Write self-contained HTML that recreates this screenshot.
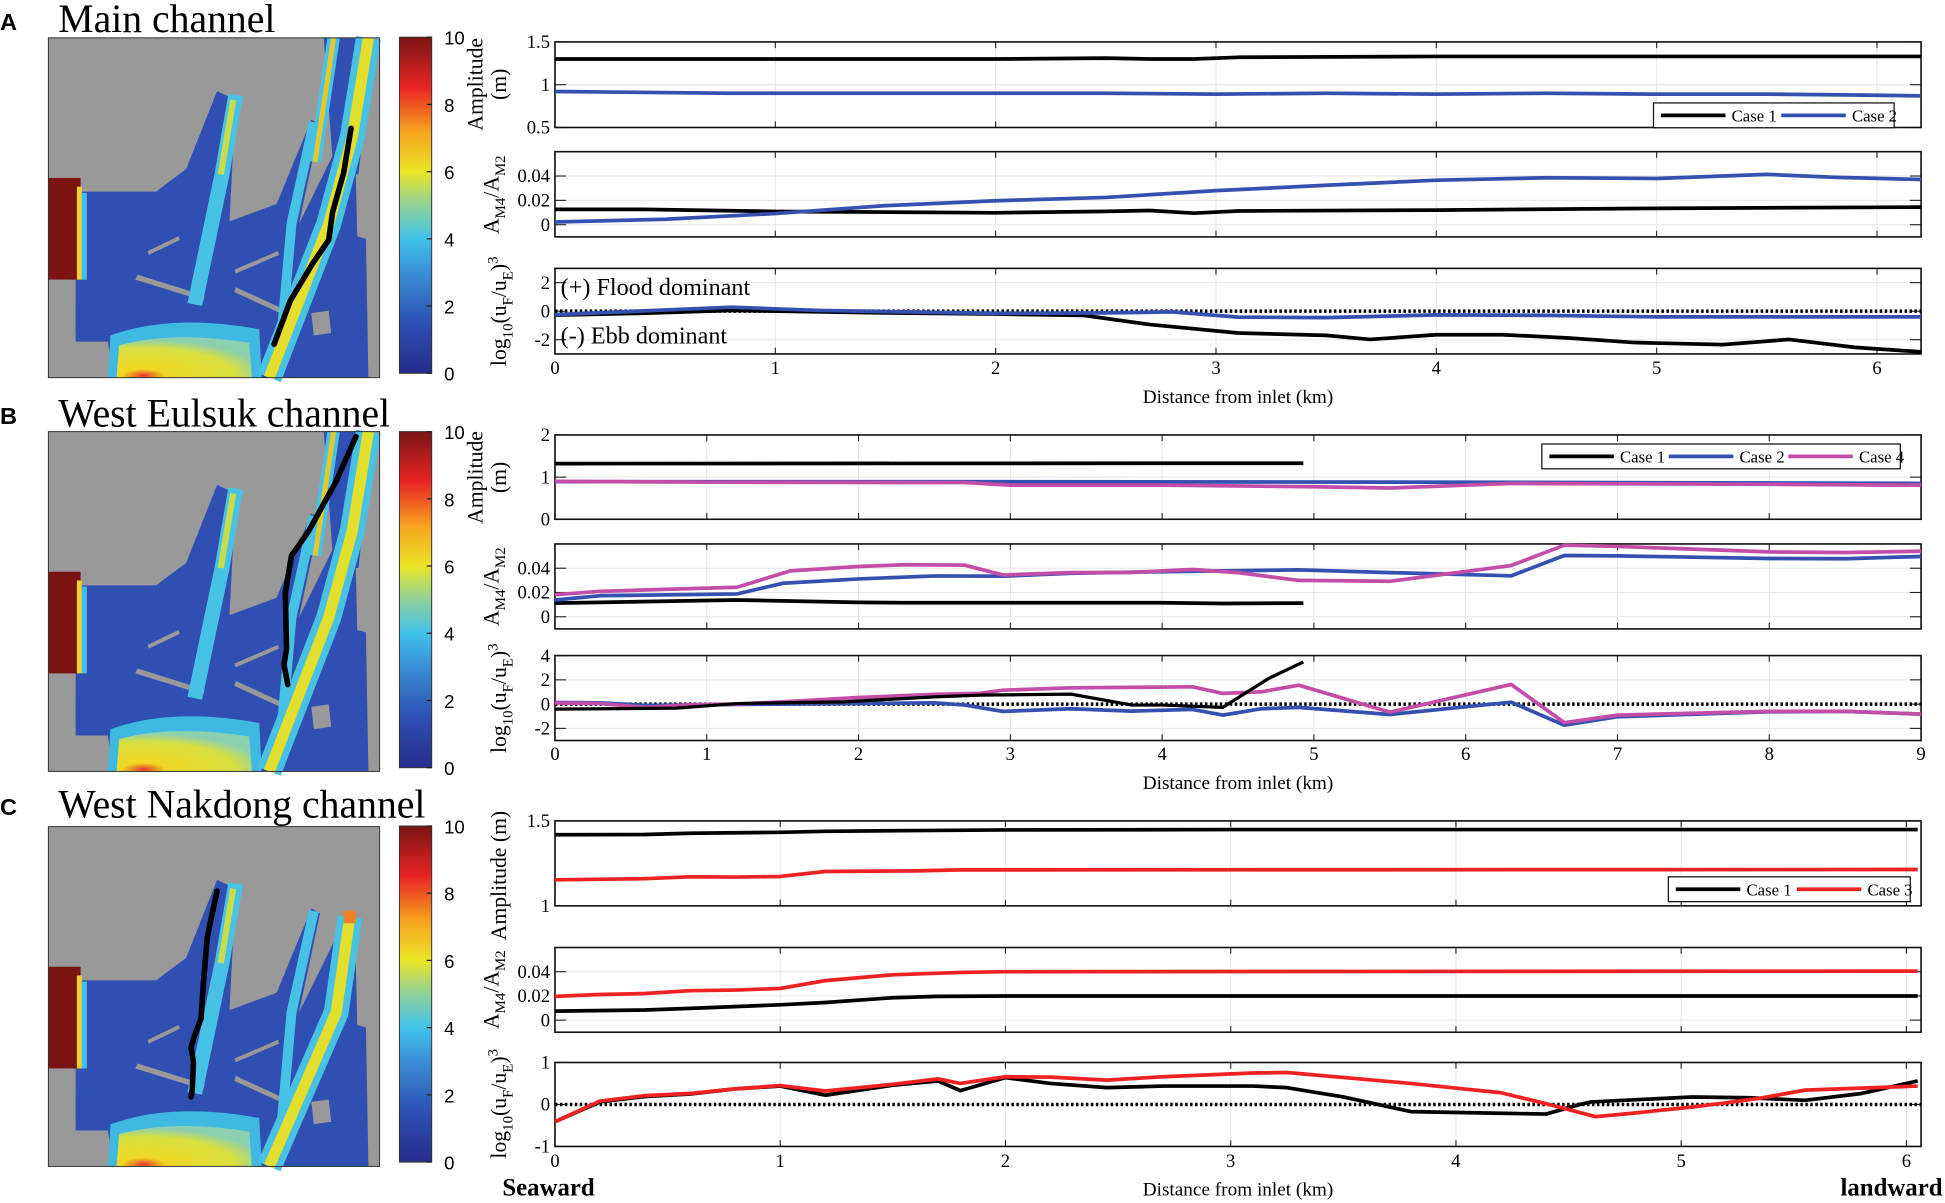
<!DOCTYPE html>
<html><head><meta charset="utf-8"><style>
html,body{margin:0;padding:0;background:#fff;}
svg{display:block;font-family:"Liberation Serif",serif;}
</style></head><body>
<svg id="fig" xmlns="http://www.w3.org/2000/svg" width="1945" height="1203" viewBox="0 0 1568 970" preserveAspectRatio="none">
<defs>
<linearGradient id="jet" x1="0" y1="1" x2="0" y2="0">
<stop offset="0" stop-color="#262c8c"/><stop offset="0.15" stop-color="#2d50b4"/><stop offset="0.3" stop-color="#3a8fd6"/><stop offset="0.4" stop-color="#40c3ea"/><stop offset="0.5" stop-color="#8fd19a"/><stop offset="0.6" stop-color="#ebe526"/><stop offset="0.72" stop-color="#f6a21f"/><stop offset="0.85" stop-color="#ea2424"/><stop offset="1" stop-color="#7a1414"/>
</linearGradient>
<radialGradient id="ybot" cx="0.2" cy="0.95" r="0.9"><stop offset="0" stop-color="#e8382a"/><stop offset="0.18" stop-color="#f0d823"/><stop offset="0.75" stop-color="#d8e040"/><stop offset="1" stop-color="#8cd0b0"/></radialGradient>
</defs>
<g id="root"></g>
</svg>
<script>
// ---------- data (km, values) ----------
const aAmpX1=[0,1,2,2.5,2.7,2.9,3.1,4,5,6.2];
const aAmpCase1=[1.30,1.30,1.30,1.31,1.30,1.30,1.32,1.33,1.33,1.33];
const aAmpX2=[0,0.8,2,2.5,3,3.5,4,4.5,5,5.5,5.9,6.2];
const aAmpCase2=[0.92,0.90,0.90,0.90,0.89,0.90,0.89,0.90,0.89,0.89,0.88,0.87];
const aRatX2=[0,0.5,1,1.5,2,2.5,3,3.5,4,4.5,5,5.5,5.8,6.2];
const aRatCase2=[0.0022,0.0045,0.0092,0.0157,0.0196,0.0224,0.028,0.0324,0.0366,0.0386,0.038,0.0414,0.039,0.0372];
const aRatX1=[0,0.4,1,2,2.5,2.7,2.9,3.1,4,5,6.2];
const aRatCase1=[0.0126,0.0126,0.0109,0.0098,0.011,0.0117,0.0095,0.0113,0.012,0.0134,0.0145];
const aDomX2=[0,0.8,1.2,2,2.5,2.8,3.1,3.5,4,4.5,5,6.2];
const aDomCase2=[-0.24,0.28,0.05,-0.16,-0.12,-0.05,-0.42,-0.45,-0.26,-0.3,-0.4,-0.4];
const aDomX1=[0,0.4,0.8,1.5,2,2.4,2.7,3.1,3.5,3.7,4.0,4.3,4.6,4.9,5.3,5.6,5.9,6.2];
const aDomCase1=[-0.28,-0.15,0.05,-0.12,-0.2,-0.3,-0.94,-1.53,-1.7,-1.98,-1.65,-1.65,-1.88,-2.2,-2.35,-1.98,-2.54,-2.85];

const bAmpX1=[0,4.93];
const bAmpCase1=[1.32,1.33];
const bAmpX2=[0,3,6,9];
const bAmpCase2=[0.89,0.89,0.88,0.85];
const bAmpX4=[0,1,2.7,3,4,5,5.5,6.3,7,8,9];
const bAmpCase4=[0.90,0.88,0.87,0.81,0.81,0.77,0.74,0.85,0.84,0.83,0.81];
const bRatX4=[0,0.3,1.2,1.55,2,2.3,2.7,2.95,3.4,3.8,4.2,4.5,4.9,5.5,6.3,6.65,7,8,8.5,9];
const bRatCase4=[0.0182,0.021,0.0243,0.0378,0.0414,0.0428,0.0425,0.0345,0.0364,0.0366,0.0389,0.0364,0.03,0.0292,0.0422,0.059,0.058,0.0535,0.053,0.054];
const bRatX2=[0,0.3,1.2,1.5,2,2.5,2.95,3.4,4.2,4.9,5.5,6.3,6.65,7,8,8.5,9];
const bRatCase2=[0.0138,0.0174,0.0188,0.0276,0.0312,0.0336,0.0334,0.0359,0.0375,0.0386,0.0364,0.0337,0.0505,0.0502,0.048,0.0478,0.0497];
const bRatX1=[0,1.2,2,2.3,4,4.4,4.93];
const bRatCase1=[0.0113,0.0138,0.0119,0.0116,0.0116,0.0110,0.0113];
const bDomX1=[0,0.8,1.2,1.9,2.5,2.8,3.4,3.8,4.0,4.4,4.7,4.93];
const bDomCase1=[-0.41,-0.33,0.05,0.19,0.6,0.74,0.82,-0.08,-0.08,-0.27,2.1,3.48];
const bDomX4=[0,0.3,0.6,0.9,1.2,1.5,2,2.5,2.8,2.95,3.4,4.2,4.4,4.65,4.9,5.5,6.3,6.65,7,8,8.5,9];
const bDomCase4=[0.1,0.05,-0.27,-0.05,0,0.19,0.55,0.8,0.88,1.15,1.34,1.42,0.88,1.01,1.56,-0.66,1.62,-1.53,-0.9,-0.6,-0.6,-0.82];
const bDomX2=[0,0.3,0.6,1.2,2,2.5,2.7,2.95,3.4,3.8,4.2,4.4,4.65,4.9,5.5,6.3,6.65,7,8,8.5,9];
const bDomCase2=[0.14,0.11,-0.11,-0.03,0.05,0.11,-0.08,-0.6,-0.38,-0.58,-0.44,-0.9,-0.38,-0.27,-0.85,0.16,-1.73,-1.04,-0.63,-0.6,-0.82];

const cAmpX1=[0,0.4,0.6,1,1.2,1.6,2,3,6.05];
const cAmpCase1=[1.418,1.420,1.427,1.433,1.439,1.443,1.447,1.449,1.449];
const cAmpX3=[0,0.4,0.6,0.8,1,1.2,1.6,1.8,6.05];
const cAmpCase3=[1.153,1.16,1.171,1.169,1.173,1.202,1.206,1.212,1.214];
const cRatX3=[0,0.2,0.4,0.6,0.8,1,1.2,1.5,1.8,2,6.05];
const cRatCase3=[0.0196,0.0212,0.022,0.0243,0.0248,0.0262,0.0326,0.0375,0.0394,0.04,0.0405];
const cRatX1=[0,0.4,0.6,1,1.2,1.5,1.7,2,6.05];
const cRatCase1=[0.0074,0.0083,0.0097,0.0127,0.0146,0.0185,0.0196,0.0199,0.0199];
const cDomX3=[0,0.2,0.4,0.6,0.8,1,1.2,1.5,1.7,1.8,2,2.2,2.45,2.7,3.1,3.25,3.8,4.2,4.4,4.62,4.8,5.05,5.2,5.35,5.55,5.75,6.05];
const cDomCase3=[-0.41,0.08,0.21,0.26,0.37,0.45,0.32,0.48,0.61,0.5,0.66,0.65,0.58,0.66,0.75,0.76,0.5,0.28,0.02,-0.29,-0.2,-0.06,0.04,0.15,0.34,0.38,0.44];
const cDomX1=[0,0.2,0.4,0.6,0.8,1,1.2,1.5,1.7,1.8,2,2.2,2.45,2.7,3.1,3.25,3.5,3.8,4.1,4.4,4.55,4.6,5.05,5.3,5.55,5.8,6.05];
const cDomCase1=[-0.41,0.06,0.19,0.25,0.37,0.44,0.22,0.46,0.56,0.33,0.64,0.5,0.4,0.44,0.44,0.4,0.18,-0.17,-0.2,-0.23,0,0.06,0.18,0.16,0.1,0.26,0.56];

const xTicksA=[0,1,2,3,4,5,6];
const xTicksB=[0,1,2,3,4,5,6,7,8,9];
const xTicksC=[0,1,2,3,4,5,6];
const cbTicks=[0,2,4,6,8,10];

// ---------- helpers ----------
const NS="http://www.w3.org/2000/svg";
const root=document.getElementById('root');
function mk(tag,attrs,parent,txt){const e=document.createElementNS(NS,tag);for(const k in attrs)e.setAttribute(k,attrs[k]);if(txt!==undefined)e.textContent=txt;(parent||root).appendChild(e);return e;}
function fmt(v){return String(v);}
const X0=447.4,X1=1548.7;
function makeAx(y0,y1,xmax,ymin,ymax){return {y0,y1,xmax,ymin,ymax,sx:v=>X0+v/xmax*(X1-X0),sy:v=>y1-(v-ymin)/(ymax-ymin)*(y1-y0)};}

function frame(ax,xt,yt,name,showX){
  const g=mk('g',{});
  
  
  xt.forEach(t=>{const x=ax.sx(t);mk('line',{x1:x,x2:x,y1:ax.y0,y2:ax.y1,stroke:'#e6e6e6','stroke-width':0.8},g);
    mk('line',{x1:x,x2:x,y1:ax.y1,y2:ax.y1-5,stroke:'#222','stroke-width':0.9},g);
    mk('line',{x1:x,x2:x,y1:ax.y0,y2:ax.y0+5,stroke:'#222','stroke-width':0.9},g);
    if(showX){const t1=mk('text',{x:x,y:showX,'font-size':15,'text-anchor':'middle'},g,fmt(t));}
  });
  yt.forEach(t=>{const y=ax.sy(t);mk('line',{x1:X0,x2:X1,y1:y,y2:y,stroke:'#e6e6e6','stroke-width':0.8},g);
    mk('line',{x1:X0,x2:X0+9,y1:y,y2:y,stroke:'#222','stroke-width':0.9},g);
    mk('line',{x1:X1,x2:X1-9,y1:y,y2:y,stroke:'#222','stroke-width':0.9},g);
    const t1=mk('text',{x:X0-4,y:y+5,'font-size':15,'text-anchor':'end'},g,fmt(t));
    
    
  });
  mk('rect',{x:X0,y:ax.y0,width:X1-X0,height:ax.y1-ax.y0,fill:'none',stroke:'#111','stroke-width':1.3},g);
  return g;
}
function series(ax,xs,ys,color,name,w){
  const d=xs.map((x,i)=>(i?'L':'M')+ax.sx(x).toFixed(1)+','+ax.sy(ys[i]).toFixed(1)).join(' ');
  const p=mk('path',{d:d,fill:'none',stroke:color,'stroke-width':w||3,'stroke-linejoin':'round'});
  
  
}
function zeroLine(ax){const y=ax.sy(0);const l=mk('line',{x1:X0,x2:X1,y1:y,y2:y,stroke:'#000','stroke-width':2.8,'stroke-dasharray':'2 2'});
  
  }
function legend(x,y,w,items){
  const g=mk('g',{});
  
  
  mk('rect',{x:x,y:y,width:w,height:20,fill:'#fff',stroke:'#111','stroke-width':1},g);
  const step=w/items.length;
  items.forEach((it,i)=>{const lx=x+6+i*step;
    const e=mk('g',{},g);
    
    
    mk('line',{x1:lx,x2:lx+52,y1:y+10,y2:y+10,stroke:it[1],'stroke-width':3},e);
    mk('text',{x:lx+57,y:y+15,'font-size':13.5},e,it[0]);});
}
function ylabel(cx,cy,html,name){
  const t=mk('text',{transform:`translate(${cx},${cy}) rotate(-90)`,'text-anchor':'middle','font-size':17.5});
  t.innerHTML=html;
  
  
}
const ampL2='<tspan x="0" dy="-9">Amplitude</tspan><tspan x="0" dy="19">(m)</tspan>';
const ratL='A<tspan font-size="12" dy="5">M4</tspan><tspan dy="-5">/A</tspan><tspan font-size="12" dy="5">M2</tspan>';
const logL='log<tspan font-size="12" dy="5">10</tspan><tspan dy="-5">(u</tspan><tspan font-size="12" dy="5">F</tspan><tspan dy="-5">/u</tspan><tspan font-size="12" dy="5">E</tspan><tspan dy="-5">)</tspan><tspan font-size="12" dy="-7">3</tspan>';
function xlabel(y){const t=mk('text',{x:(X0+X1)/2,y:y,'text-anchor':'middle','font-size':15.5},root,'Distance from inlet (km)');
  
  }

// ---------- maps ----------
function map(ox,oy,full,pathPts,name){
  const g=mk('g',{transform:`translate(${ox},${oy})`});
  
  
  mk('rect',{x:0,y:0,width:267,height:274,fill:'#999'},g);
  mk('path',{d:'M17,124 L87,124 Q100,114 111,106 L136,43 L151,50 L146,148 L184,134 L212,66 L219,70 L202,150 L240,73 L247,73 L249,160 L256,162 L258,274 L52,274 L48,245 L20,245 L20,200 L17,196 Z',fill:'#2f4fb2'},g);
  if(full){mk('path',{d:'M222,0 L262,0 L250,110 L230,110 Z',fill:'#2f4fb2'},g);}
  mk('rect',{x:0,y:113,width:26,height:82,fill:'#7c1313'},g);
  mk('rect',{x:23,y:120,width:4,height:75,fill:'#f0d030'},g);
  mk('rect',{x:27,y:125,width:4,height:70,fill:'#40c0e6'},g);
  mk('rect',{x:0,y:195,width:22,height:79,fill:'#999'},g);
  mk('rect',{x:22,y:215,width:26,height:22,fill:'#2f4fb2'},g);
  ['M70,195 L125,212 L126,208 L72,191Z','M150,205 L200,228 L201,224 L151,201Z','M150,187 L185,172 L186,175 L151,190Z','M212,222 L226,220 L228,238 L214,240Z','M80,172 L105,160 L106,163 L81,175Z'].forEach(d=>mk('path',{d:d,fill:'#999'},g));
  mk('path',{d:'M48,274 L50,240 Q100,222 170,235 L172,274 Z',fill:'#3fb8e2'},g);
  mk('path',{d:'M55,274 L57,248 Q100,236 162,246 L164,274 Z',fill:'url(#ybot)'},g);
  mk('path',{d:'M151,46 L140,110 L118,215',fill:'none',stroke:'#48c2e4','stroke-width':12},g);
  mk('path',{d:'M149,50 L139,110',fill:'none',stroke:'#c8dc50','stroke-width':5},g);
  mk('path',{d:'M214,68 L196,150 L185,274',fill:'none',stroke:'#48c2e4','stroke-width':8},g);
  if(full){
    mk('path',{d:'M258,0 L245,80 L226,150 L178,274',fill:'none',stroke:'#48c2e4','stroke-width':20},g);
    mk('path',{d:'M258,0 L245,80 L226,150 L178,274',fill:'none',stroke:'#e3df2c','stroke-width':9},g);
    mk('path',{d:'M230,0 L215,100',fill:'none',stroke:'#48c2e4','stroke-width':10},g);
    mk('path',{d:'M230,0 L215,100',fill:'none',stroke:'#e4c830','stroke-width':4},g);
  } else {
    mk('path',{d:'M243,73 L232,150 L178,274',fill:'none',stroke:'#48c2e4','stroke-width':20},g);
    mk('path',{d:'M243,73 L232,150 L178,274',fill:'none',stroke:'#e3df2c','stroke-width':9},g);
    mk('rect',{x:238,y:68,width:10,height:10,fill:'#f08020'},g);
  }
  const p=mk('path',{d:pathPts,fill:'none',stroke:'#000','stroke-width':4.5,'stroke-linecap':'round','stroke-linejoin':'round'},g);
  
  
  mk('rect',{x:0,y:0,width:267,height:274,fill:'none',stroke:'#333','stroke-width':0.8},g);
}
function colorbar(ox,oy,name){
  const g=mk('g',{});
  
  
  const h=271;
  mk('rect',{x:ox,y:oy,width:26,height:h,fill:'url(#jet)',stroke:'#333','stroke-width':0.8},g);
  cbTicks.forEach(t=>{const y=oy+h-t/10*h;
    mk('line',{x1:ox+26,x2:ox+22,y1:y,y2:y,stroke:'#222'},g);
    mk('text',{x:ox+36,y:y+6,'font-size':15,'font-family':'Liberation Sans, sans-serif'},g,String(t));});
}
function title(letter,txt,y){
  const a=mk('text',{x:0,y:y,'font-size':19,'font-weight':'bold','font-family':'Liberation Sans, sans-serif'},root,letter);
  
  
  const t=mk('text',{x:47,y:y+2,'font-size':32},root,txt);
  
  
}

// ---------- Panel A ----------
title('A','Main channel',24);
map(39,30.5,true,'M244,73 L238,109 L229,141 L226,163 L213,182 L195,212 L182,247','map-main-channel');
colorbar(322,30,'colorbar-a');
const a1=makeAx(33.8,102.8,6.2,0.5,1.5),a2=makeAx(122.3,191,6.2,-0.01,0.06),a3=makeAx(216.4,285.4,6.2,-3,3);
frame(a1,xTicksA,[0.5,1,1.5],'amplitude-plot-a',0);
frame(a2,xTicksA,[0,0.02,0.04],'ratio-plot-a',0);
frame(a3,xTicksA,[-2,0,2],'dominance-plot-a',301.5);
series(a1,aAmpX1,aAmpCase1,'#000','a-amp-case1');series(a1,aAmpX2,aAmpCase2,'#3551b0','a-amp-case2');
series(a2,aRatX1,aRatCase1,'#000','a-ratio-case1');series(a2,aRatX2,aRatCase2,'#3551b0','a-ratio-case2');
zeroLine(a3);
series(a3,aDomX1,aDomCase1,'#000','a-dom-case1');series(a3,aDomX2,aDomCase2,'#3551b0','a-dom-case2');
legend(1333,83,194,[['Case 1','#000'],['Case 2','#3551b0']]);
ylabel(398,68,ampL2,'y-axis-title-amplitude');ylabel(402,157,ratL,'y-axis-title-ratio');ylabel(408,251,logL,'y-axis-title-dominance');
{const t1=mk('text',{x:452,y:238,'font-size':19.5},root,'(+) Flood dominant');
 const t2=mk('text',{x:452,y:277,'font-size':19.5},root,'(-) Ebb dominant');}
xlabel(325);

// ---------- Panel B ----------
title('B','West Eulsuk channel',342);
map(39,348,true,'M248,4 L232,40 L210,80 L196,100 L191,130 L192,175 L190,188 L193,204','map-west-eulsuk');
colorbar(322,348,'colorbar-b');
const b1=makeAx(350.7,418.7,9,0,2),b2=makeAx(438.6,507.1,9,-0.01,0.06),b3=makeAx(528.6,597.1,9,-3,4);
frame(b1,xTicksB,[0,1,2],'amplitude-plot-b',0);
frame(b2,xTicksB,[0,0.02,0.04],'ratio-plot-b',0);
frame(b3,xTicksB,[-2,0,2,4],'dominance-plot-b',613);
series(b1,bAmpX2,bAmpCase2,'#3551b0','b-amp-case2');series(b1,bAmpX4,bAmpCase4,'#c24ea8','b-amp-case4');series(b1,bAmpX1,bAmpCase1,'#000','b-amp-case1');
series(b2,bRatX1,bRatCase1,'#000','b-ratio-case1');series(b2,bRatX2,bRatCase2,'#3551b0','b-ratio-case2');series(b2,bRatX4,bRatCase4,'#c24ea8','b-ratio-case4');
zeroLine(b3);
series(b3,bDomX2,bDomCase2,'#3551b0','b-dom-case2');series(b3,bDomX4,bDomCase4,'#c24ea8','b-dom-case4');series(b3,bDomX1,bDomCase1,'#000','b-dom-case1',2.6);
legend(1243,358,289,[['Case 1','#000'],['Case 2','#3551b0'],['Case 4','#c24ea8']]);
ylabel(398,385,ampL2,'y-axis-title-amplitude');ylabel(402,473,ratL,'y-axis-title-ratio');ylabel(408,563,logL,'y-axis-title-dominance');
xlabel(636);

// ---------- Panel C ----------
title('C','West Nakdong channel',657);
map(39,666.5,false,'M136,52 L131,75 L128,90 L125,126 L123,155 L118,168 L115,178 L117,190 L116,212 L115,218','map-west-nakdong');
colorbar(322,666,'colorbar-c');
const c1=makeAx(661.9,730.4,6.065,1,1.5),c2=makeAx(764,832.3,6.065,-0.01,0.06),c3=makeAx(856.7,924.4,6.065,-1,1);
frame(c1,xTicksC,[1,1.5],'amplitude-plot-c',0);
frame(c2,xTicksC,[0,0.02,0.04],'ratio-plot-c',0);
frame(c3,xTicksC,[-1,0,1],'dominance-plot-c',941);
series(c1,cAmpX1,cAmpCase1,'#000','c-amp-case1');series(c1,cAmpX3,cAmpCase3,'#ee2222','c-amp-case3');
series(c2,cRatX1,cRatCase1,'#000','c-ratio-case1');series(c2,cRatX3,cRatCase3,'#ee2222','c-ratio-case3');
zeroLine(c3);
series(c3,cDomX1,cDomCase1,'#000','c-dom-case1');series(c3,cDomX3,cDomCase3,'#ee2222','c-dom-case3');
legend(1345,707,195,[['Case 1','#000'],['Case 3','#ee2222']]);
ylabel(408,706,'Amplitude (m)','y-axis-title-amplitude');ylabel(402,798,ratL,'y-axis-title-ratio');ylabel(408,890,logL,'y-axis-title-dominance');
xlabel(964);
{const s=mk('text',{x:405,y:964,'font-size':20,'font-weight':'bold'},root,'Seaward');
 const l=mk('text',{x:1566,y:964,'font-size':20,'font-weight':'bold','text-anchor':'end'},root,'landward');}
</script>
</body></html>
